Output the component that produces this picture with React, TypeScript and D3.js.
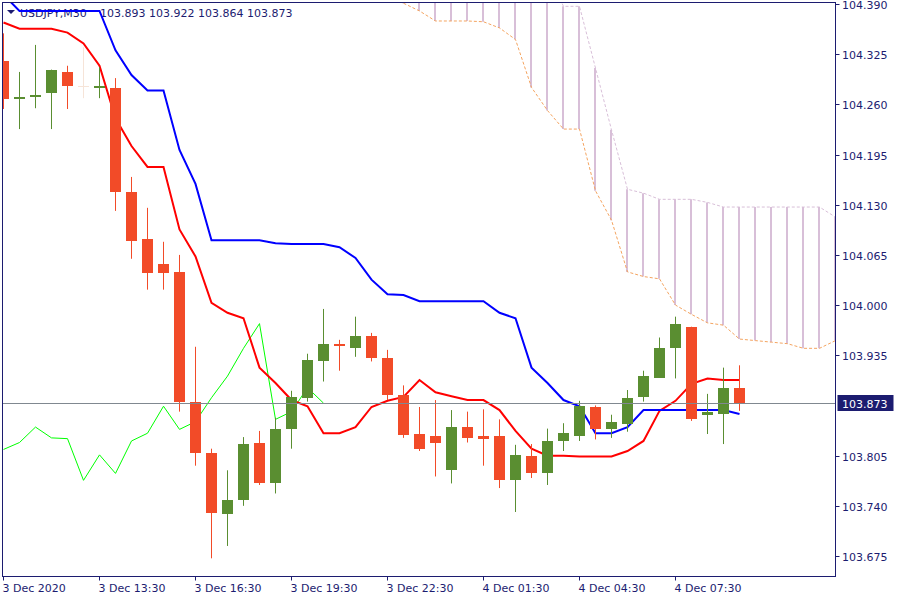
import * as d3 from 'd3'

const W = 900
const H = 600

// OHLC, 30 min bars from 3 Dec 10:30
const opens = [104.316, 104.267, 104.269, 104.275, 104.302, 104.284, 104.281, 104.281, 104.146, 104.086, 104.053, 104.043, 103.874, 103.808, 103.730, 103.748, 103.821, 103.770, 103.839, 103.880, 103.927, 103.950, 103.945, 103.960, 103.931, 103.884, 103.833, 103.830, 103.787, 103.842, 103.830, 103.830, 103.773, 103.804, 103.782, 103.824, 103.831, 103.868, 103.839, 103.846, 103.881, 103.906, 103.944, 103.972, 103.857, 103.859, 103.893]
const highs = [104.352, 104.302, 104.337, 104.305, 104.310, 104.334, 104.308, 104.294, 104.166, 104.126, 104.082, 104.065, 103.946, 103.814, 103.786, 103.829, 103.837, 103.854, 103.889, 103.937, 103.995, 103.955, 103.985, 103.964, 103.942, 103.896, 103.868, 103.877, 103.864, 103.862, 103.865, 103.852, 103.819, 103.820, 103.840, 103.847, 103.876, 103.870, 103.858, 103.890, 103.915, 103.958, 103.985, 103.972, 103.885, 103.919, 103.922]
const lows = [104.254, 104.228, 104.255, 104.228, 104.254, 104.268, 104.268, 104.122, 104.060, 104.020, 104.020, 103.862, 103.792, 103.672, 103.688, 103.740, 103.767, 103.756, 103.814, 103.875, 103.901, 103.915, 103.933, 103.927, 103.877, 103.828, 103.811, 103.778, 103.769, 103.822, 103.792, 103.763, 103.732, 103.776, 103.767, 103.811, 103.824, 103.826, 103.828, 103.836, 103.875, 103.906, 103.905, 103.850, 103.833, 103.820, 103.863]
const closes = [104.267, 104.270, 104.272, 104.305, 104.284, 104.284, 104.284, 104.146, 104.083, 104.042, 104.042, 103.874, 103.808, 103.731, 103.748, 103.820, 103.769, 103.840, 103.881, 103.929, 103.950, 103.947, 103.960, 103.932, 103.884, 103.832, 103.813, 103.822, 103.842, 103.828, 103.827, 103.773, 103.806, 103.782, 103.824, 103.834, 103.869, 103.839, 103.849, 103.880, 103.908, 103.944, 103.976, 103.852, 103.862, 103.893, 103.873]

// Ichimoku
const tenkan = [104.366, 104.358, 104.358, 104.358, 104.353, 104.339, 104.310, 104.242, 104.206, 104.179, 104.179, 104.098, 104.063, 104.003, 103.990, 103.983, 103.919, 103.899, 103.877, 103.869, 103.834, 103.834, 103.842, 103.868, 103.876, 103.881, 103.903, 103.887, 103.882, 103.877, 103.877, 103.864, 103.837, 103.814, 103.805, 103.805, 103.804, 103.804, 103.804, 103.811, 103.824, 103.863, 103.876, 103.898, 103.905, 103.903, 103.903]
const kijun = [104.402, 104.381, 104.381, 104.381, 104.381, 104.381, 104.381, 104.330, 104.298, 104.278, 104.278, 104.201, 104.157, 104.084, 104.084, 104.084, 104.084, 104.080, 104.079, 104.079, 104.079, 104.075, 104.061, 104.033, 104.014, 104.013, 104.005, 104.005, 104.005, 104.005, 104.005, 103.990, 103.983, 103.919, 103.899, 103.877, 103.869, 103.834, 103.834, 103.842, 103.864, 103.864, 103.864, 103.864, 103.864, 103.864, 103.859]
const chikouShift = 26
const cloudStart = 25
const senkouA = [104.391, 104.381, 104.368, 104.368, 104.368, 104.367, 104.359, 104.344, 104.282, 104.252, 104.228, 104.228, 104.148, 104.110, 104.043, 104.037, 104.034, 104.000, 103.988, 103.977, 103.974, 103.956, 103.954, 103.952, 103.950, 103.944, 103.944, 103.954]
const senkouB = [104.46, 104.46, 104.46, 104.46, 104.46, 104.46, 104.46, 104.46, 104.46, 104.43, 104.387, 104.387, 104.307, 104.227, 104.150, 104.145, 104.137, 104.137, 104.137, 104.133, 104.127, 104.127, 104.127, 104.127, 104.127, 104.127, 104.127, 104.114]

const timeTicks = [0, 6, 12, 18, 24, 30, 36, 42]
const timeLabels = ['3 Dec 2020', '3 Dec 13:30', '3 Dec 16:30', '3 Dec 19:30', '3 Dec 22:30', '4 Dec 01:30', '4 Dec 04:30', '4 Dec 07:30']
const priceTicks = [104.390, 104.325, 104.260, 104.195, 104.130, 104.065, 104.000, 103.935, 103.805, 103.740, 103.675]
const lastPrice = 103.873
const symbol = 'USDJPY,M30'
const ohlcText = '103.893 103.922 103.864 103.873'

const NAVY = '#1c1c70'
const BULL = '#5a8e31'
const BEAR = '#f24b28'
const FONT = 'DejaVu Sans'

const App = () => {
  const left = 2.5, top = 2.5, right = 835.5, bottom = 576.5

  const x = d3.scaleLinear().domain([0, 52]).range([3.5, 835.5])
  const y = d3.scaleLinear().domain([103.675, 104.390]).range([556, 4])
  const fmt = d3.format('.3f')

  const line = d3.line<number>().x((d, i) => x(i)).y(d => y(d))
  const cloudLine = d3.line<number>().x((d, i) => x(i + cloudStart)).y(d => y(d))
  const chikou = closes.slice(chikouShift)

  const candles = opens.map((o, i) => {
    const c = closes[i]
    const color = c > o ? BULL : c < o ? BEAR : '#f6e4d8'
    const t = Math.round(y(Math.max(o, c)))
    const b = Math.round(y(Math.min(o, c)))
    return (
      <g key={i}>
        <line x1={x(i)} x2={x(i)} y1={y(highs[i])} y2={y(lows[i])} stroke={color} strokeWidth={1} />
        <rect x={x(i) - 5.5} y={t} width={11} height={Math.max(1, b - t)} fill={color} />
      </g>
    )
  })

  const hatch = senkouA.map((a, k) => (
    <line key={k} x1={x(k + cloudStart) - 0.5} x2={x(k + cloudStart) - 0.5}
      y1={y(a)} y2={y(senkouB[k])} stroke="#d8bfd8" strokeWidth={2} />
  ))

  const priceY = Math.round(y(lastPrice)) + 0.5

  return (
    <div style={{ position: 'absolute', left: 0, top: 0 }}>
      <svg width={W} height={H} style={{ display: 'block', background: '#fff' }}>
        <defs>
          <clipPath id="plot">
            <rect x={left + 0.5} y={top + 0.5} width={right - left - 0.5} height={bottom - top - 0.5} />
          </clipPath>
        </defs>

        <g fontFamily={FONT} fontSize={11} fill={NAVY}>
          <path d="M7,10 L15,10 L11,14 Z" fill={NAVY} />
          <text x={20} y={17}>{symbol}</text>
          <text x={100} y={17}>{ohlcText}</text>
        </g>

        <g clipPath="url(#plot)">
          {hatch}
          <path d={cloudLine(senkouA) ?? ''} fill="none" stroke="#f4a460" strokeWidth={1} strokeDasharray="3,2" />
          <path d={cloudLine(senkouB) ?? ''} fill="none" stroke="#d8bfd8" strokeWidth={1} strokeDasharray="3,2" />
          <path d={line(chikou) ?? ''} fill="none" stroke="#00ff00" strokeWidth={1} />
          <path d={line(tenkan) ?? ''} fill="none" stroke="#ff0000" strokeWidth={2} />
          <path d={line(kijun) ?? ''} fill="none" stroke="#0000ff" strokeWidth={2} />
          {candles}
          <line x1={left} x2={right} y1={priceY} y2={priceY} stroke="#808890" strokeWidth={1} />
        </g>

        <rect x={left} y={top} width={right - left} height={bottom - top} fill="none" stroke={NAVY} strokeWidth={1} />

        <g fontFamily={FONT} fontSize={11} fill={NAVY}>
          {priceTicks.map(v => {
            const ty = Math.round(y(v)) + 0.5
            return (
              <g key={v}>
                <line x1={right} x2={right + 4} y1={ty} y2={ty} stroke={NAVY} />
                <text x={842} y={ty + 4}>{fmt(v)}</text>
              </g>
            )
          })}
          {timeTicks.map((t, k) => (
            <g key={t}>
              <line x1={x(t)} x2={x(t)} y1={bottom} y2={bottom + 4} stroke={NAVY} />
              <text x={x(t) - 1} y={592}>{timeLabels[k]}</text>
            </g>
          ))}
        </g>

        <rect x={837.5} y={priceY - 8.5} width={56} height={16} fill={NAVY} />
        <text x={842} y={priceY + 4} fontFamily={FONT} fontSize={11} fill="#fff">{fmt(lastPrice)}</text>
      </svg>
    </div>
  )
}

export default App
